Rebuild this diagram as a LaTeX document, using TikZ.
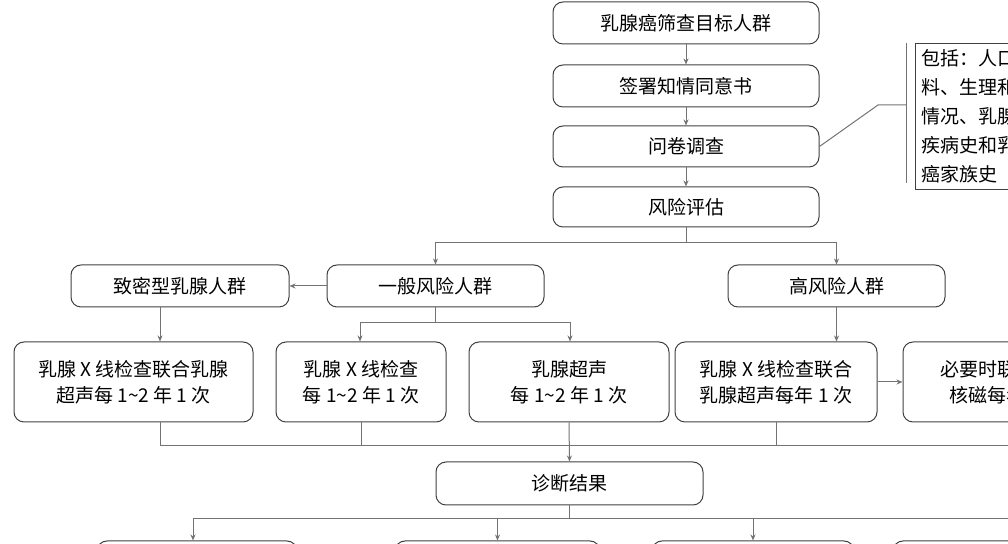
\documentclass[tikz,border=0pt]{standalone}
\usepackage{fontspec}
\usetikzlibrary{arrows.meta}
\setmainfont{Noto Sans CJK SC}
\begin{document}
\begin{tikzpicture}[x=0.5pt,y=-0.5pt,
  bx/.style={draw=black!75,rounded corners=5pt,line width=0.5pt,align=center,font=\fontsize{9.5}{13}\selectfont,inner sep=0pt},
  ln/.style={draw=black!55,line width=0.5pt},
  ar/.style={ln,-{Stealth[length=3pt,width=2.5pt]}}]
\useasboundingbox (0,0) rectangle (1008,544);
\clip (0,0) rectangle (1008,544);
\newcommand{\bxat}[6]{\node[bx,minimum width=#3*0.5pt-#1*0.5pt,minimum height=#4*0.5pt-#2*0.5pt] (#5) at ({(#1+#3)/2},{(#2+#4)/2}) {#6};}
\bxat{553}{2}{819}{44}{t1}{乳腺癌筛查目标人群}
\bxat{553}{65}{819}{107}{t2}{签署知情同意书}
\bxat{553}{126}{819}{167}{t3}{问卷调查}
\bxat{553}{187}{819}{227}{t4}{风险评估}
\node[draw=black!75,line width=0.5pt,anchor=north west,align=left,inner sep=3pt,font=\fontsize{9.5}{14.5}\selectfont,text width=120pt] (note) at (915,43) {包括：人口学资\\料、生理和生育\\情况、乳腺相关\\疾病史和乳腺\\癌家族史};
\coordinate (b1) at (906,43); \coordinate (b2) at (906,183);
\draw[ln] (b1) -- (b2);
\coordinate (k) at (878,105);
\draw[ln] (t3.east) -- (k) -- (b1|-k);
\bxat{71}{265}{289}{307}{d}{致密型乳腺人群}
\bxat{327}{265}{544}{307}{g}{一般风险人群}
\bxat{728}{265}{945}{307}{h}{高风险人群}
\bxat{14}{342}{253}{422}{A}{乳腺 X 线检查联合乳腺\\超声每 1\textasciitilde2 年 1 次}
\bxat{276}{342}{446}{422}{B}{乳腺 X 线检查\\每 1\textasciitilde2 年 1 次}
\bxat{469}{342}{669}{422}{C}{乳腺超声\\每 1\textasciitilde2 年 1 次}
\bxat{675}{342}{877}{422}{D}{乳腺 X 线检查联合\\乳腺超声每年 1 次}
\bxat{903}{342}{1110}{422}{E}{必要时联合乳腺\\核磁每年 1 次}
\bxat{436}{462}{703}{505}{z}{诊断结果}
\bxat{97}{541}{297}{600}{r1}{}
\bxat{395}{541}{600}{600}{r2}{}
\bxat{652}{541}{854}{600}{r3}{}
\bxat{893}{541}{1100}{600}{r4}{}
\draw[ar] (t1) -- (t2);
\draw[ar] (t2) -- (t3);
\draw[ar] (t3) -- (t4);
\draw[ln] (t4.south) -- ++(0,15) coordinate (s);
\draw[ar] (s) -| (g.north);
\draw[ar] (s) -| (h.north);
\draw[ar] (g) -- (d);
\coordinate (dx) at (160,307);
\draw[ar] (dx) -- (dx|-A.north);
\draw[ar] (h.south) -- (h.south|-D.north);
\draw[ln] (g.south) -- ++(0,15) coordinate (s2);
\draw[ar] (s2) -| ([xshift=-0.5pt]B.north);
\draw[ar] (s2) -| ([xshift=0.5pt]C.north);
\draw[ar] (D) -- (E);
\coordinate (m) at (569,446);
\coordinate (mr) at (1100,446);
\coordinate (ax) at (160,422);
\draw[ln] (ax) |- (mr);
\draw[ln] (B.south) -- (B.south|-m);
\draw[ln] (D.south) -- (D.south|-m);
\draw[ar] (C.south) -- (z.north);
\draw[ln] (z.south) -- ++(0,14) coordinate (s3);
\coordinate (q1) at (193,519); \coordinate (q2) at (1100,519);
\draw[ln] (q1) -- (q2);
\draw[ar] (q1) -- (q1|-r1.north);
\draw[ar] (r2.north|-q1) -- (r2.north);
\draw[ar] (r3.north|-q1) -- (r3.north);
\draw[ar] (1033,519) -- (1033,541);
\end{tikzpicture}
\end{document}
